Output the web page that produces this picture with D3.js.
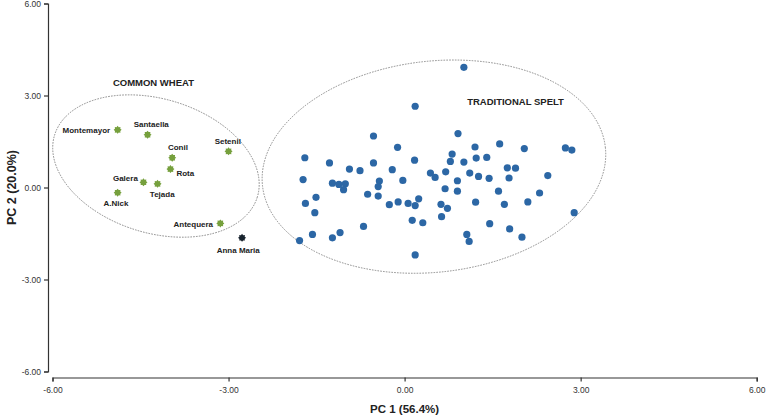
<!DOCTYPE html>
<html>
<head>
<meta charset="utf-8">
<script src="https://cdn.jsdelivr.net/npm/d3@7"></script>
<style>
  html, body { margin: 0; padding: 0; background: #fff; }
  svg { display: block; font-family: "Liberation Sans", Arial, sans-serif; }
</style>
</head>
<body>
<svg id="chart" width="766" height="418"></svg>
<script>
// ---------- data ----------
const xTicks = [-6, -3, 0, 3, 6];
const yTicks = [-6, -3, 0, 3, 6];
const xTitle = "PC 1 (56.4%)";
const yTitle = "PC 2 (20.0%)";

const wheatNames = ["Montemayor", "Santaella", "Conil", "Setenil", "Rota", "Galera", "Tejada", "A.Nick", "Antequera"];
const wheatPC1 = [-4.89, -4.38, -3.96, -3.00, -3.99, -4.45, -4.21, -4.89, -3.14];
const wheatPC2 = [1.88, 1.72, 0.97, 1.18, 0.60, 0.17, 0.12, -0.17, -1.17];

const otherNames = ["Anna Maria"];
const otherPC1 = [-2.77];
const otherPC2 = [-1.64];

const speltPC1 = [1.01, 0.18, 0.91, -0.53, -0.12, 1.20, 1.62, 2.04, 2.74, 2.85,
  -1.70, -1.28, -0.53, 0.17, 0.81, 0.78, 1.01, 1.22, 1.40, 1.75,
  1.89, -0.94, -0.76, -0.21, 0.44, 0.52, 0.70, 1.11, 1.26, 1.44,
  1.78, 2.44, -1.73, -1.23, -1.12, -1.01, -1.04, -0.43, -0.45, -0.03,
  0.90, 0.69, 0.90, 1.60, 2.30, -1.51, -1.69, -0.63, -0.45, -0.26,
  -0.11, 0.06, 0.18, 0.24, 0.62, 0.73, 1.21, 1.70, 2.10, 2.89,
  -1.53, 0.13, 0.31, 0.63, 1.45, 1.79, -0.70, -1.57, -1.23, -1.10,
  -1.79, 1.06, 1.10, 2.00, 0.18];
const speltPC2 = [3.92, 2.65, 1.76, 1.68, 1.31, 1.32, 1.42, 1.27, 1.29, 1.22,
  0.97, 0.80, 0.80, 0.89, 1.09, 0.85, 0.83, 0.96, 0.98, 0.64,
  0.63, 0.60, 0.55, 0.58, 0.47, 0.33, 0.51, 0.47, 0.36, 0.30,
  0.31, 0.39, 0.26, 0.14, 0.10, 0.12, -0.07, 0.21, 0.03, 0.23,
  0.22, -0.04, -0.12, -0.12, -0.18, -0.32, -0.52, -0.22, -0.28, -0.56,
  -0.47, -0.52, -0.59, -0.37, -0.55, -0.68, -0.48, -0.55, -0.47, -0.82,
  -0.82, -1.07, -1.15, -0.95, -1.18, -1.35, -1.27, -1.53, -1.64, -1.47,
  -1.73, -1.53, -1.76, -1.62, -2.20];

const groupLabels = ["COMMON WHEAT", "TRADITIONAL SPELT"];
// group label anchor points (data units)
const groupLabelPC1 = [-4.28, 1.89];
const groupLabelPC2 = [3.30, 2.69];

// ellipse annotations: centre in data units
const ellipseNames = ["wheat", "spelt"];
const ellipsePC1 = [-4.237, 0.50];
const ellipsePC2 = [0.70, 0.68];

// ---------- layout / style ----------
const W = 766, H = 418;
const X0 = 52.5, X1 = 756.7;    // x axis pixel extent
const Y0 = 371.5, Y1 = 3.5;     // y axis pixel extent
const yAxisX = 48, xAxisY = 377.5;
const BLUE = "#2c67a5", GREEN = "#76a03d", DARK = "#18232e";

const ellipseStyle = {
  wheat: { rx: 106, ry: 67, rot: 17 },
  spelt: { rx: 172.5, ry: 105.5, rot: -6.5 }
};

const labelPlace = {
  "Montemayor": { dx: -7.5, dy: 3, anchor: "end" },
  "Santaella": { dx: 3.7, dy: -8, anchor: "middle" },
  "Conil": { dx: 5.7, dy: -8, anchor: "middle" },
  "Setenil": { dx: -0.8, dy: -7.5, anchor: "middle" },
  "Rota": { dx: 6, dy: 6.8, anchor: "start" },
  "Galera": { dx: -5.6, dy: -1.5, anchor: "end" },
  "Tejada": { dx: 4.7, dy: 13.1, anchor: "middle" },
  "A.Nick": { dx: -1.7, dy: 13.1, anchor: "middle" },
  "Antequera": { dx: -7.3, dy: 3.5, anchor: "end" },
  "Anna Maria": { dx: -3.8, dy: 15, anchor: "middle" }
};

// ---------- scales ----------
const x = d3.scaleLinear().domain([-6, 6]).range([X0, X1]);
const y = d3.scaleLinear().domain([-6, 6]).range([Y0, Y1]);
const fmt = v => v.toFixed(2);

const svg = d3.select("#chart");
svg.append("rect").attr("width", W).attr("height", H).attr("fill", "#fff");

// ---------- axes ----------
const yAxis = svg.append("g")
  .attr("transform", `translate(${yAxisX},0)`)
  .call(d3.axisLeft(y).tickValues(yTicks).tickFormat(fmt).tickSize(4).tickPadding(3));
const xAxis = svg.append("g")
  .attr("transform", `translate(0,${xAxisY})`)
  .call(d3.axisBottom(x).tickValues(xTicks).tickFormat(fmt).tickSize(4).tickPadding(5));
[xAxis, yAxis].forEach(g => {
  g.select(".domain").attr("stroke", "#333").attr("stroke-width", 1.2);
  g.selectAll(".tick line").attr("stroke", "#333").attr("stroke-width", 1.2);
  g.selectAll(".tick text").attr("fill", "#333").attr("font-size", 8.5)
    .attr("font-family", "'Liberation Sans', Arial, sans-serif");
});

svg.append("text")
  .attr("x", x(0)).attr("y", 413)
  .attr("text-anchor", "middle").attr("font-weight", "bold").attr("font-size", 11.5)
  .attr("fill", "#222").text(xTitle);
svg.append("text")
  .attr("transform", `translate(16,${y(0)}) rotate(-90)`)
  .attr("text-anchor", "middle").attr("font-weight", "bold").attr("font-size", 12.5)
  .attr("fill", "#222").text(yTitle);

// ---------- ellipses ----------
ellipseNames.forEach((n, i) => {
  const s = ellipseStyle[n];
  svg.append("ellipse")
    .attr("transform", `translate(${x(ellipsePC1[i])},${y(ellipsePC2[i])}) rotate(${s.rot})`)
    .attr("rx", s.rx).attr("ry", s.ry)
    .attr("fill", "none").attr("stroke", "#7a7a7a")
    .attr("stroke-width", 0.8).attr("stroke-dasharray", "1.6,1.2");
});

// group labels
groupLabels.forEach((t, i) => {
  svg.append("text")
    .attr("x", x(groupLabelPC1[i])).attr("y", y(groupLabelPC2[i]))
    .attr("text-anchor", "middle").attr("font-weight", "bold").attr("font-size", 9.5)
    .attr("fill", "#222").text(t);
});

// ---------- points ----------
const star8 = {
  draw(ctx, size) {
    const R = Math.sqrt(size) / 2, r = R * 0.72;
    for (let k = 0; k < 16; k++) {
      const a = k * Math.PI / 8 - Math.PI / 2;
      const rad = k % 2 ? r : R;
      const px = rad * Math.cos(a), py = rad * Math.sin(a);
      if (k === 0) ctx.moveTo(px, py); else ctx.lineTo(px, py);
    }
    ctx.closePath();
  }
};
const sym = d3.symbol().type(star8).size(64);

const spelt = speltPC1.map((v, i) => ({ pc1: v, pc2: speltPC2[i] }));
svg.append("g").selectAll("circle").data(spelt).join("circle")
  .attr("cx", d => x(d.pc1)).attr("cy", d => y(d.pc2))
  .attr("r", 3.6).attr("fill", BLUE);

const wheat = wheatNames.map((n, i) => ({ name: n, pc1: wheatPC1[i], pc2: wheatPC2[i], color: GREEN }));
const other = otherNames.map((n, i) => ({ name: n, pc1: otherPC1[i], pc2: otherPC2[i], color: DARK }));
const named = wheat.concat(other);

svg.append("g").selectAll("path").data(named).join("path")
  .attr("transform", d => `translate(${x(d.pc1)},${y(d.pc2)})`)
  .attr("d", sym).attr("fill", d => d.color);

svg.append("g").selectAll("text").data(named).join("text")
  .attr("x", d => x(d.pc1) + labelPlace[d.name].dx)
  .attr("y", d => y(d.pc2) + labelPlace[d.name].dy)
  .attr("text-anchor", d => labelPlace[d.name].anchor)
  .attr("font-weight", "bold").attr("font-size", 8)
  .attr("fill", "#222").text(d => d.name);
</script>
</body>
</html>
